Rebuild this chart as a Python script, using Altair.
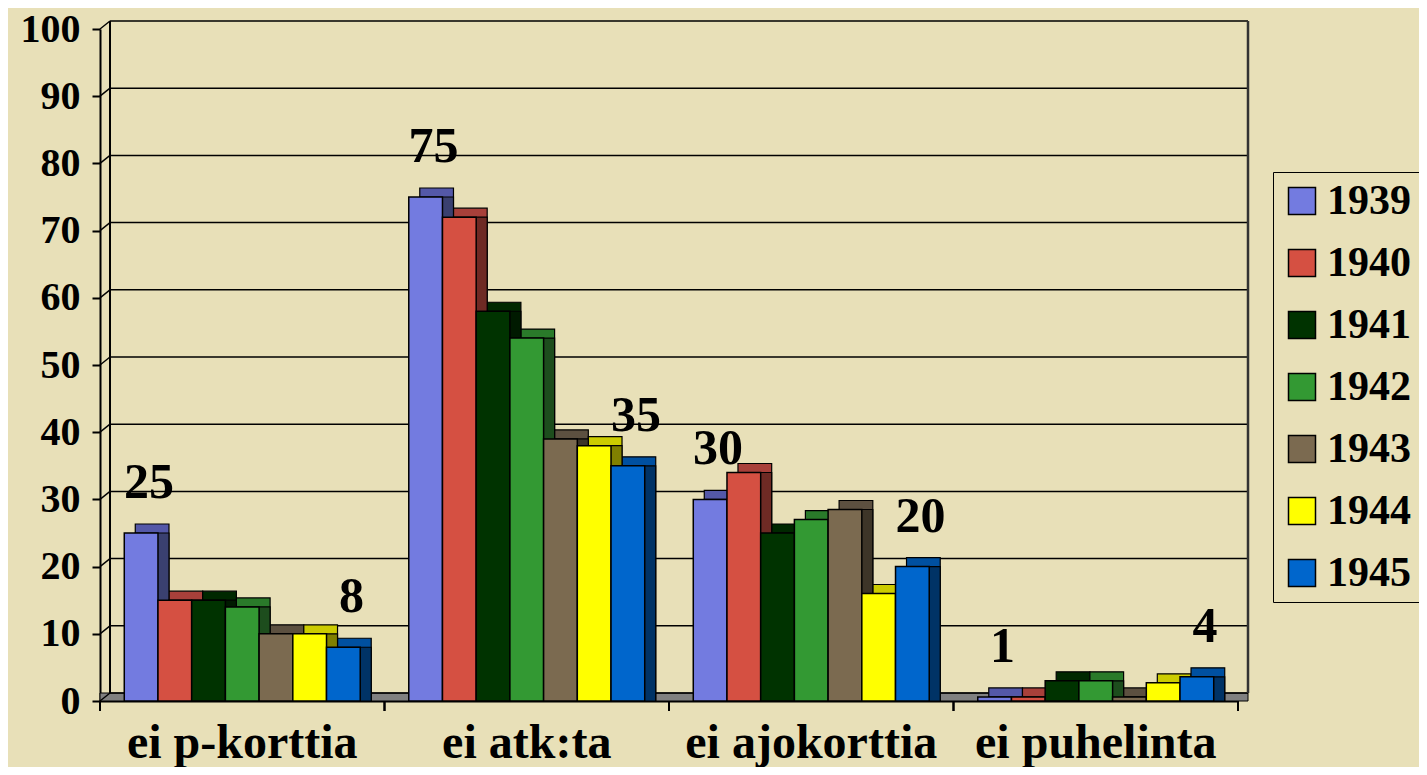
import altair as alt
import pandas as pd

categories = ["ei p-korttia", "ei atk:ta", "ei ajokorttia", "ei puhelinta"]
years = ["1939", "1940", "1941", "1942", "1943", "1944", "1945"]
v_pkortti = [25, 15, 15, 14, 10, 10, 8]
v_atk = [75, 72, 58, 54, 39, 38, 35]
v_ajokortti = [30, 34, 25, 27, 28.5, 16, 20]
v_puhelin = [0.6, 0.6, 3, 3, 0.6, 2.7, 3.6]
y_ticks = [0, 10, 20, 30, 40, 50, 60, 70, 80, 90, 100]
labelled_years = ["1939", "1945"]

front_colors = ["#737BE0", "#D55042", "#003300", "#339933", "#7B6A50", "#FFFF00", "#0066CC"]
side_colors = ["#3A4070", "#6E2A24", "#001A00", "#1D4D1D", "#3D3528", "#808000", "#003366"]
top_colors = ["#5458A8", "#A8403A", "#002800", "#2A7A2A", "#5C5040", "#CCCC00", "#0050A0"]

series = [v_pkortti, v_atk, v_ajokortti, v_puhelin]
rows = []
for c, vals in zip(categories, series):
    for i, (y, v) in enumerate(zip(years, vals)):
        rows.append({"cat": c, "year": y, "value": v,
                     "side": side_colors[i], "top": top_colors[i]})
df = pd.DataFrame(rows)
grid_df = pd.DataFrame({"v": y_ticks})
cat_df = pd.DataFrame({"cat": categories})

W, H = 1138, 672
BAND = W / len(categories)
DEPTH_X, DEPTH_Y = 11, 9
BG = "#E8E0B8"
FONT = "Liberation Serif"

x_axis = alt.Axis(title=None, labelAngle=0, ticks=False, labelFontSize=48,
                  labelFont=FONT, labelFontWeight="bold", labelColor="black",
                  labelPadding=56, labelBaseline="alphabetic", labelLimit=500,
                  domainColor="black", domainWidth=2)
y_axis = alt.Axis(title=None, values=y_ticks, grid=False, labelFontSize=40,
                  labelFont=FONT, labelFontWeight="bold", labelColor="black",
                  tickColor="black", tickWidth=2, tickSize=8, labelPadding=12,
                  domainColor="black", domainWidth=2)
x_scale = alt.Scale(type="band", domain=categories, paddingInner=0, paddingOuter=0)
y_scale = alt.Scale(domain=[0, 100], nice=False)


def X():
    return alt.X("cat:N", sort=categories, scale=x_scale, axis=x_axis)


def Y(field="value:Q"):
    return alt.Y(field, scale=y_scale, axis=y_axis)


def XO(shift):
    return alt.XOffset("year:N", sort=years,
                       scale=alt.Scale(type="band", domain=years, paddingInner=0,
                                       paddingOuter=0.72, range=[shift, BAND + shift]))


floor = alt.Chart(grid_df).mark_rect(color="#808080", stroke="black", strokeWidth=1).encode(
    x=alt.value(0), x2=alt.value(W + 10), y=alt.value(H - 8), y2=alt.value(H)
).transform_filter("datum.v == 0")

grid = alt.Chart(grid_df).mark_rule(color="black", strokeWidth=1.5, yOffset=-8).encode(
    x=alt.value(10), x2=alt.value(W + 10), y=Y("v:Q")
)
diag = alt.Chart(grid_df).mark_rule(color="black", strokeWidth=1.5, y2Offset=-8).encode(
    x=alt.value(0), x2=alt.value(10), y=Y("v:Q"), y2=alt.Y2("v")
)
wall_left = alt.Chart(grid_df).mark_rule(color="black", strokeWidth=2).encode(
    x=alt.value(10), y=alt.value(-8), y2=alt.value(H - 8)
).transform_filter("datum.v == 0")
wall_right = alt.Chart(grid_df).mark_rule(color="#333333", strokeWidth=2.5).encode(
    x=alt.value(W + 10), y=alt.value(-8), y2=alt.value(H - 8)
).transform_filter("datum.v == 0")

xticks0 = alt.Chart(cat_df).mark_rule(color="black", strokeWidth=2).encode(
    x=alt.X("cat:N", sort=categories, scale=x_scale, axis=x_axis, bandPosition=0),
    y=alt.value(H), y2=alt.value(H + 10)
)
xticks1 = alt.Chart(cat_df).mark_rule(color="black", strokeWidth=2).encode(
    x=alt.X("cat:N", sort=categories, scale=x_scale, axis=x_axis, bandPosition=1),
    y=alt.value(H), y2=alt.value(H + 10)
)

bar_top = alt.Chart(df).mark_bar(yOffset=-DEPTH_Y, stroke="black",
                                 strokeWidth=1.2, opacity=1).encode(
    x=X(), xOffset=XO(DEPTH_X), y=Y(), y2=alt.datum(0),
    color=alt.Color("top:N", scale=None)
)
bar_side = alt.Chart(df).mark_bar(stroke="black", strokeWidth=1.2, opacity=1).encode(
    x=X(), xOffset=XO(DEPTH_X), y=Y(), y2=alt.datum(0),
    color=alt.Color("side:N", scale=None)
)
bar_front = alt.Chart(df).mark_bar(stroke="black", strokeWidth=1.5, opacity=1).encode(
    x=X(), xOffset=XO(0), y=Y(), y2=alt.datum(0),
    color=alt.Color("year:N", sort=years,
                    scale=alt.Scale(domain=years, range=front_colors),
                    legend=alt.Legend(title=None, orient="none", legendX=1173, legendY=143,
                                      symbolType="square", symbolSize=729,
                                      symbolStrokeColor="black", symbolStrokeWidth=1.5,
                                      symbolOpacity=1, labelFontSize=42, labelFont=FONT,
                                      labelFontWeight="bold", labelColor="black",
                                      labelOffset=4, rowPadding=20, padding=8,
                                      strokeColor="black", fillColor=BG,
                                      labelLimit=400))
)
labels = alt.Chart(df).transform_filter(
    alt.FieldOneOfPredicate(field="year", oneOf=labelled_years)
).mark_text(dy=-50, dx=8, fontSize=50, font=FONT, fontWeight="bold",
            color="black", baseline="middle", align="center").encode(
    x=X(), xOffset=XO(0), y=Y(), text=alt.Text("value:Q", format=".0f")
)

chart = alt.layer(
    floor, grid, diag, wall_left, wall_right, xticks0, xticks1,
    bar_top, bar_side, bar_front, labels
).resolve_scale(
    xOffset="independent"
).properties(
    width=W, height=H,
    autosize=alt.AutoSizeParams(type="none"),
    padding={"left": 92, "top": 21, "right": 181, "bottom": 66},
    background=BG
).configure_view(stroke=None)

chart.save("out.html", embed_options={"renderer": "svg", "actions": False})
